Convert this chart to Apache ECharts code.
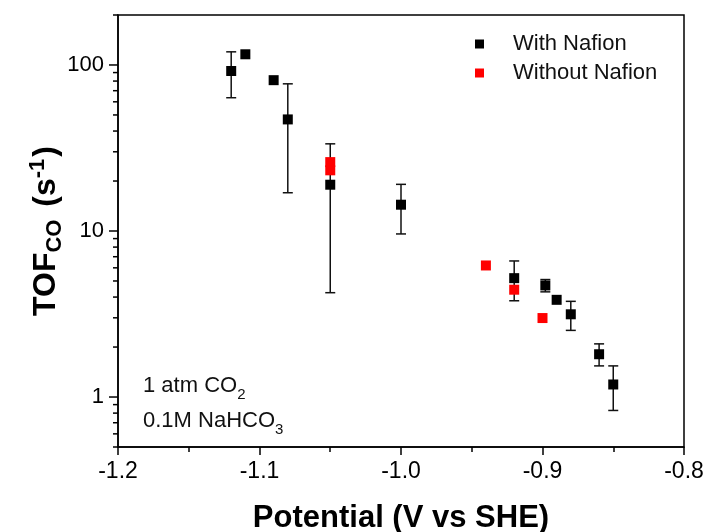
<!DOCTYPE html>
<html>
<head>
<meta charset="utf-8">
<script src="https://cdn.jsdelivr.net/npm/echarts@6/dist/echarts.min.js"></script>
<style>
    html, body { margin: 0; padding: 0; background: #fff; }
    #chart { width: 710px; height: 532px; }
</style>
</head>
<body>
<div id="chart"></div>
<script>
/* 数据：With Nafion */
const withX = [-1.12, -1.11, -1.09, -1.08, -1.05, -1.00, -0.92, -0.898, -0.89, -0.88, -0.86, -0.85];
const withY = [92, 116, 81, 47, 19.0, 14.4, 5.2, 4.7, 3.85, 3.15, 1.81, 1.19];
const withLow = [63.5, null, null, 17.0, 4.25, 9.6, 3.8, 4.3, null, 2.52, 1.54, 0.83];
const withHigh = [120, null, null, 77, 33.5, 19.1, 6.6, 5.1, null, 3.77, 2.09, 1.54];

/* 数据：Without Nafion */
const withoutX = [-1.05, -1.05, -0.94, -0.92, -0.90];
const withoutY = [26.0, 23.2, 6.2, 4.43, 2.99];

/* 坐标轴刻度 */
const xTicks = [-1.2, -1.1, -1.0, -0.9, -0.8];
const yMajor = [1, 10, 100];
const yMinor = [0.5, 0.6, 0.7, 0.8, 0.9, 2, 3, 4, 5, 6, 7, 8, 9,
                20, 30, 40, 50, 60, 70, 80, 90, 200];

const FONT = "Liberation Sans, Arial, sans-serif";

const chart = echarts.init(document.getElementById("chart"));

/* 误差棒 */
const errData = [];
withX.forEach((x, i) => {
    if (withLow[i] !== null) {
        errData.push([x, withLow[i], withHigh[i]]);
    }
});

/* y 轴刻度线 (对数轴次刻度) */
const tickData = yMajor.map(v => [v, 9]).concat(yMinor.map(v => [v, 5]));

chart.setOption({
    animation: false,
    grid: {
        left: 118, right: 26, top: 15, bottom: 85,
        outerBoundsMode: "none",
        containLabel: false,
        show: true, borderColor: "#000", borderWidth: 1.5
    },
    legend: {
        orient: "vertical",
        left: 470, top: 28,
        itemWidth: 9, itemHeight: 9, itemGap: 7,
        textStyle: {
            fontFamily: FONT, fontSize: 22, color: "#111",
            padding: [0, 0, 0, 24], lineHeight: 22
        },
        data: [
            { name: "With Nafion", icon: "rect" },
            { name: "Without Nafion", icon: "rect" }
        ]
    },
    xAxis: {
        type: "value",
        min: -1.2, max: -0.8, interval: 0.1,
        name: "Potential (V vs SHE)",
        nameLocation: "middle", nameGap: 56,
        nameMoveOverlap: false,
        nameTextStyle: { fontFamily: FONT, fontSize: 31, fontWeight: "bold", color: "#000" },
        axisLine: { lineStyle: { color: "#000", width: 1.5 } },
        axisTick: { inside: false, length: 8, lineStyle: { color: "#000", width: 1.5 } },
        minorTick: { show: true, splitNumber: 2, length: 5, lineStyle: { color: "#000", width: 1.5 } },
        splitLine: { show: false },
        axisLabel: {
            margin: 13, fontFamily: FONT, fontSize: 23, color: "#000",
            formatter: v => v.toFixed(1)
        }
    },
    yAxis: {
        type: "log", logBase: 10,
        min: 0.5, max: 200,
        name: "TOF{sub|CO} (s{sup|-1})",
        nameLocation: "middle", nameGap: 52,
        nameMoveOverlap: false,
        nameTextStyle: {
            fontFamily: FONT, fontSize: 32, fontWeight: "bold", color: "#000",
            rich: {
                sub: { fontFamily: FONT, fontSize: 22, fontWeight: "bold", padding: [18, 4, 0, 0] },
                sup: { fontFamily: FONT, fontSize: 22, fontWeight: "bold", padding: [0, 2, 16, 0] }
            }
        },
        axisLine: { lineStyle: { color: "#000", width: 1.5 } },
        axisTick: { show: false },
        splitLine: { show: false },
        axisLabel: {
            margin: 14, fontFamily: FONT, fontSize: 22, color: "#000",
            showMinLabel: false, showMaxLabel: false,
            formatter: v => yMajor.includes(Math.round(v * 1000) / 1000) ? String(Math.round(v)) : ""
        }
    },
    graphic: [
        {
            type: "text", left: 143, top: 375,
            style: {
                text: "1 atm CO{sub|2}",
                font: "22px " + FONT, fill: "#111",
                rich: { sub: { fontSize: 15, fontFamily: FONT, padding: [18, 0, 0, 0] } }
            }
        },
        {
            type: "text", left: 143, top: 410,
            style: {
                text: "0.1M NaHCO{sub|3}",
                font: "22px " + FONT, fill: "#111",
                rich: { sub: { fontSize: 15, fontFamily: FONT, padding: [18, 0, 0, 0] } }
            }
        }
    ],
    series: [
        {
            /* y 轴刻度 */
            type: "custom",
            silent: true,
            clip: false,
            data: tickData,
            renderItem: (params, api) => {
                const p = api.coord([-1.2, api.value(0)]);
                const len = api.value(1);
                return {
                    type: "line",
                    shape: { x1: p[0] - len, y1: p[1], x2: p[0], y2: p[1] },
                    style: { stroke: "#000", lineWidth: 1.5 }
                };
            }
        },
        {
            /* 误差棒 */
            type: "custom",
            silent: true,
            data: errData,
            renderItem: (params, api) => {
                const lo = api.coord([api.value(0), api.value(1)]);
                const hi = api.coord([api.value(0), api.value(2)]);
                const w = 5;
                const st = { stroke: "#111", lineWidth: 1.5 };
                return {
                    type: "group",
                    children: [
                        { type: "line", shape: { x1: lo[0], y1: lo[1], x2: hi[0], y2: hi[1] }, style: st },
                        { type: "line", shape: { x1: lo[0] - w, y1: lo[1], x2: lo[0] + w, y2: lo[1] }, style: st },
                        { type: "line", shape: { x1: hi[0] - w, y1: hi[1], x2: hi[0] + w, y2: hi[1] }, style: st }
                    ]
                };
            }
        },
        {
            name: "With Nafion",
            type: "scatter",
            symbol: "rect",
            symbolSize: 10,
            itemStyle: { color: "#000", opacity: 1 },
            data: withX.map((x, i) => [x, withY[i]])
        },
        {
            name: "Without Nafion",
            type: "scatter",
            symbol: "rect",
            symbolSize: 10,
            itemStyle: { color: "#ff0000", opacity: 1 },
            data: withoutX.map((x, i) => [x, withoutY[i]])
        }
    ]
});
</script>
</body>
</html>
